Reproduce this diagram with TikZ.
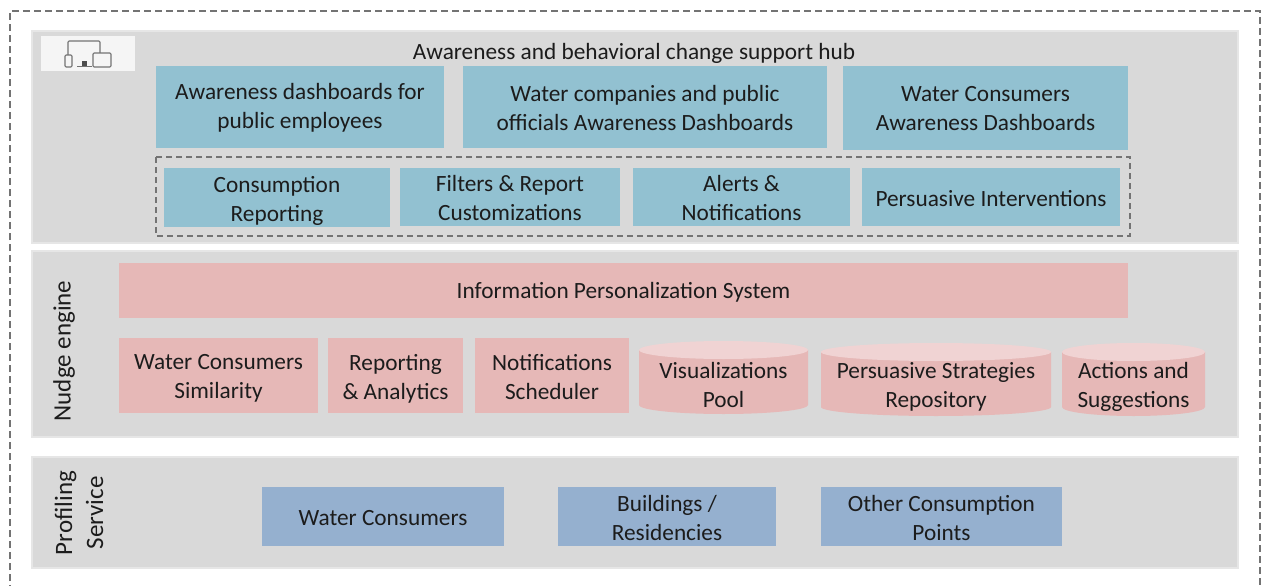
\documentclass[tikz,border=0pt]{standalone}
\usepackage{fontspec}
\setmainfont{Carlito}
\usetikzlibrary{calc}
\definecolor{panel}{HTML}{D9D9D9}
\definecolor{paneledge}{HTML}{E6E6E6}
\definecolor{teal}{HTML}{92C1D1}
\definecolor{pinkb}{HTML}{E6B8B7}
\definecolor{pinkt}{HTML}{F0D3D3}
\definecolor{blueb}{HTML}{95B0CF}
\definecolor{ink}{HTML}{1C1C1C}
\tikzset{
  lbl/.style={font=\fontsize{23.3}{29}\selectfont,text=ink,align=center,inner sep=0pt},
  sidelbl/.style={lbl,font=\fontsize{25}{31}\selectfont},
  panelbox/.style={fill=panel,draw=paneledge,line width=1.5pt},
  tealbox/.style={fill=teal},
  pinkbox/.style={fill=pinkb},
  bluebox/.style={fill=blueb},
  frame/.style={draw=black!55,dash pattern=on 7pt off 4pt,line width=1.2pt},
  iconline/.style={draw=black!55,line width=1.1pt,rounded corners=1.2pt}
}
% [#1 text shift], #2 name, #3 x0, #4 y0, #5 x1, #6 y1, #7 style, #8 text
\newcommand{\labbox}[8][1.5]{%
  \fill[#7] (#3,#4) rectangle (#5,#6);
  \node[lbl] (#2) at ({(#3+#5)/2},{(#4+#6)/2+#1}) {#8};}
% #1 name, #2 x0, #3 y0, #4 x1, #5 y1, #6 text
\newcommand{\cyl}[6]{%
  \fill[pinkb] (#2,#3+9) -- (#2,#5-9) arc[start angle=180,end angle=0,x radius={(#4-#2)/2},y radius=9]
     -- (#4,#3+9) -- cycle;
  \fill[pinkt] ({(#2+#4)/2},#3+9) ellipse[x radius={(#4-#2)/2},y radius=9];
  \node[lbl] (#1) at ({(#2+#4)/2},{(#3+#5)/2+7.5}) {#6};}
\begin{document}
\begin{tikzpicture}[x=1pt,y=-1pt]
\useasboundingbox (0,0) rectangle (1261,586);
\fill[white] (0,0) rectangle (1261,586);
\draw[frame] (10,592) -- (10,11) -- (1260,11) -- (1260,592);
\draw[panelbox] (32,31) rectangle (1238,243);
\draw[panelbox] (32,251) rectangle (1238,437);
\draw[panelbox] (32,457) rectangle (1238,568);
% icon
\fill[black!4] (41,36) rectangle (135,71);
\draw[iconline] (68,55) -- (68,41) -- (100,41) -- (100,53);
\draw[iconline] (65,55) rectangle (72,67);
\draw[iconline] (93,53) rectangle (111,67);
\draw[black!55,line width=1.5pt] (77,66.5) -- (92,66.5);
\fill[black!70] (82,61) rectangle (87,66);
% top hub
\node[lbl] (hub) at (634,53) {Awareness and behavioral change support hub};
\labbox[1]{a1}{156}{66}{444}{148}{tealbox}{Awareness dashboards for\\public employees}
\labbox[0.5]{a2}{463}{66}{827}{148}{tealbox}{Water companies and public\\officials Awareness Dashboards}
\labbox[0.5]{a3}{843}{66}{1128}{150}{tealbox}{Water Consumers\\Awareness Dashboards}
\draw[frame,line width=1.1pt,dash pattern=on 6pt off 4pt] (156,157) rectangle (1130,236);
\labbox[3.5]{b1}{164}{168}{390}{227}{tealbox}{Consumption\\Reporting}
\labbox[0.5]{b2}{400}{168}{620}{226}{tealbox}{Filters \& Report\\Customizations}
\labbox[0.5]{b3}{633}{168}{850}{226}{tealbox}{Alerts \&\\Notifications}
\labbox{b4}{862}{168}{1120}{226}{tealbox}{Persuasive Interventions}
% nudge
\node[sidelbl,rotate=90] (nudge) at (64,351) {Nudge engine};
\labbox{c0}{119}{263}{1128}{318}{pinkbox}{Information Personalization System}
\labbox[3]{c1}{119}{338}{318}{413}{pinkbox}{Water Consumers\\Similarity}
\labbox[3]{c2}{328}{338}{463}{413}{pinkbox}{Reporting\\\& Analytics}
\labbox[2]{c3}{475}{338}{629}{413}{pinkbox}{Notifications\\Scheduler}
\cyl{d1}{639}{341}{808}{414}{Visualizations\\Pool}
\cyl{d2}{821}{343}{1051}{416}{Persuasive Strategies\\Repository}
\cyl{d3}{1062}{343}{1205}{416}{Actions and\\Suggestions}
% profiling
\node[sidelbl,rotate=90] (prof) at (79,513) {Profiling\\Service};
\labbox{e1}{262}{487}{504}{546}{bluebox}{Water Consumers}
\labbox{e2}{558}{487}{776}{546}{bluebox}{Buildings /\\Residencies}
\labbox{e3}{821}{487}{1062}{546}{bluebox}{Other Consumption\\Points}
\end{tikzpicture}
\end{document}
